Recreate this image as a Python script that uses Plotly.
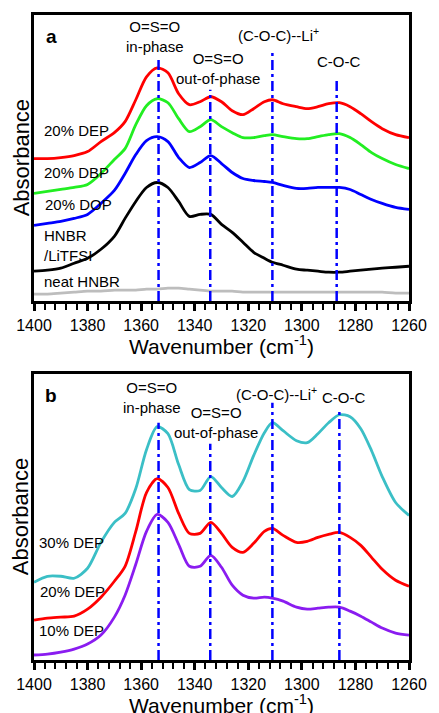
import plotly.graph_objects as go

# wavenumber grid (cm-1), shared by both panels
wavenumber = [1400, 1395, 1390, 1385, 1380, 1375, 1370, 1366, 1362, 1358, 1354, 1350,
              1346, 1342, 1338, 1334, 1330, 1326, 1322, 1318, 1314, 1311, 1307, 1302,
              1298, 1294, 1290, 1286, 1282, 1278, 1274, 1270, 1265, 1260]

# panel a (offset spectra, a.u.)
a_dep20 = [1.43, 1.43, 1.44, 1.46, 1.50, 1.60, 1.69, 1.80, 2.02, 2.25, 2.34, 2.29,
           2.08, 1.97, 2.00, 2.05, 2.00, 1.91, 1.87, 1.93, 2.00, 2.02, 1.98, 1.95,
           1.93, 1.95, 1.98, 1.99, 1.95, 1.88, 1.80, 1.73, 1.67, 1.64]
a_dbp20 = [1.08, 1.10, 1.12, 1.14, 1.17, 1.28, 1.42, 1.53, 1.77, 1.96, 2.03, 1.99,
           1.83, 1.70, 1.75, 1.82, 1.75, 1.69, 1.64, 1.64, 1.66, 1.67, 1.65, 1.63,
           1.63, 1.65, 1.67, 1.68, 1.64, 1.57, 1.49, 1.43, 1.37, 1.33]
a_dop20 = [0.76, 0.78, 0.80, 0.83, 0.87, 0.98, 1.11, 1.28, 1.47, 1.61, 1.65, 1.60,
           1.44, 1.34, 1.39, 1.46, 1.38, 1.29, 1.23, 1.21, 1.20, 1.19, 1.16, 1.13,
           1.13, 1.14, 1.14, 1.14, 1.12, 1.07, 1.02, 0.98, 0.94, 0.92]
a_litfsi = [0.30, 0.31, 0.33, 0.38, 0.43, 0.52, 0.65, 0.83, 1.00, 1.14, 1.19, 1.14,
            1.00, 0.85, 0.87, 0.87, 0.77, 0.69, 0.59, 0.49, 0.43, 0.39, 0.36, 0.32,
            0.31, 0.30, 0.29, 0.29, 0.30, 0.31, 0.32, 0.33, 0.34, 0.35]
a_neat = [0.07, 0.07, 0.08, 0.09, 0.10, 0.10, 0.11, 0.11, 0.11, 0.12, 0.12, 0.13,
          0.13, 0.12, 0.11, 0.10, 0.10, 0.10, 0.09, 0.09, 0.09, 0.09, 0.09, 0.09,
          0.09, 0.09, 0.09, 0.09, 0.09, 0.09, 0.09, 0.09, 0.08, 0.08]

# panel b
b_dep30 = [0.78, 0.84, 0.84, 0.82, 0.92, 1.18, 1.38, 1.47, 1.72, 2.11, 2.34, 2.27,
           1.96, 1.71, 1.70, 1.84, 1.73, 1.64, 1.79, 2.05, 2.28, 2.38, 2.30, 2.20,
           2.18, 2.27, 2.38, 2.46, 2.44, 2.32, 2.10, 1.84, 1.58, 1.45]
b_dep20 = [0.40, 0.42, 0.43, 0.44, 0.51, 0.63, 0.79, 0.94, 1.29, 1.68, 1.82, 1.73,
           1.47, 1.27, 1.27, 1.38, 1.27, 1.13, 1.08, 1.17, 1.29, 1.32, 1.25, 1.18,
           1.19, 1.23, 1.26, 1.28, 1.23, 1.15, 1.03, 0.91, 0.80, 0.74]
b_dep10 = [0.05, 0.06, 0.08, 0.11, 0.16, 0.25, 0.43, 0.65, 0.96, 1.29, 1.46, 1.38,
           1.16, 0.94, 0.94, 1.05, 0.93, 0.75, 0.65, 0.62, 0.63, 0.62, 0.59, 0.53,
           0.51, 0.52, 0.53, 0.53, 0.49, 0.44, 0.38, 0.32, 0.27, 0.25]

# band positions and heights of the marker lines
bands_a = [1353.5, 1334.2, 1311, 1287]
band_tops_a = [2.42, 2.12, 2.50, 2.23]
bands_b = [1353.5, 1334.2, 1311, 1286]
band_tops_b = [2.38, 2.17, 2.58, 2.52]

FONT = "Liberation Sans, Arial, sans-serif"

fig = go.Figure()

panel_a = [(a_dep20, "#FF0000"), (a_dbp20, "#22EE22"), (a_dop20, "#0000FF"),
           (a_litfsi, "#000000"), (a_neat, "#BDBDBD")]
for ys, col in panel_a:
    fig.add_trace(go.Scatter(x=wavenumber, y=ys, mode="lines", xaxis="x", yaxis="y",
                             line=dict(color=col, width=2.8, shape="spline", smoothing=0.8),
                             showlegend=False))

panel_b = [(b_dep30, "#3BBFC6"), (b_dep20, "#FF0000"), (b_dep10, "#8A1CF0")]
for ys, col in panel_b:
    fig.add_trace(go.Scatter(x=wavenumber, y=ys, mode="lines", xaxis="x2", yaxis="y2",
                             line=dict(color=col, width=2.8, shape="spline", smoothing=0.8),
                             showlegend=False))

# dash-dot band markers
for xr, yr, bands, tops in [("x", "y", bands_a, band_tops_a), ("x2", "y2", bands_b, band_tops_b)]:
    for b, t in zip(bands, tops):
        fig.add_shape(type="line", xref=xr, yref=yr, x0=b, x1=b, y0=0, y1=t,
                      line=dict(color="#0000FF", width=2.5, dash="10px,4px,3px,4px"))

xaxis_style = dict(range=[1400, 1260], tick0=1400, dtick=20, ticks="outside", ticklen=7,
                   tickwidth=2.5, tickcolor="black", showline=True, linewidth=2.5,
                   linecolor="black", mirror=True, showgrid=False, zeroline=False,
                   ticklabelstandoff=1,
                   tickfont=dict(family=FONT, size=16, color="black"),
                   minor=dict(dtick=4, ticks="outside", ticklen=6, tickwidth=2,
                              tickcolor="black"))
yaxis_style = dict(range=[0, 2.87], showticklabels=False, ticks="", showline=True,
                   linewidth=2.5, linecolor="black", mirror=True, showgrid=False,
                   zeroline=False)

fig.update_layout(
    width=439, height=713,
    margin=dict(l=34, r=20, t=13, b=53),
    paper_bgcolor="white", plot_bgcolor="white",
    font=dict(family=FONT, size=15, color="black"),
    xaxis=dict(anchor="y", **xaxis_style),
    yaxis=dict(domain=[0.5564, 1], anchor="x", **yaxis_style),
    xaxis2=dict(anchor="y2", **xaxis_style),
    yaxis2=dict(domain=[0, 0.4436], anchor="x2", **yaxis_style),
)

def note(text, x, y, xr, yr, size=15, xanchor="center", bold=False, align="center"):
    if bold:
        text = "<b>" + text + "</b>"
    fig.add_annotation(text=text, x=x, y=y, xref=xr, yref=yr, showarrow=False,
                       xanchor=xanchor, yanchor="middle", align=align,
                       font=dict(family=FONT, size=size, color="black"))

# panel a labels
note("a", 1393.5, 2.65, "x", "y", size=19, bold=True)
note("O=S=O<br>in-phase", 1355, 2.65, "x", "y")
note("O=S=O<br>out-of-phase", 1331.3, 2.33, "x", "y")
note("(C-O-C)--Li<sup>+</sup>", 1308.7, 2.67, "x", "y")
note("C-O-C", 1286.5, 2.40, "x", "y")
note("20% DEP", 1397.1, 1.71, "x", "y", xanchor="left")
note("20% DBP", 1397.1, 1.29, "x", "y", xanchor="left")
note("20% DOP", 1396.8, 0.97, "x", "y", xanchor="left")
note("HNBR<br>/LiTFSI", 1397.1, 0.56, "x", "y", xanchor="left", align="left")
note("neat HNBR", 1397.1, 0.20, "x", "y", xanchor="left")

# panel b labels
note("b", 1393.5, 2.65, "x2", "y2", size=19, bold=True)
note("O=S=O<br>in-phase", 1356, 2.63, "x2", "y2")
note("O=S=O<br>out-of-phase", 1332, 2.38, "x2", "y2")
note("(C-O-C)--Li<sup>+</sup>", 1309.5, 2.67, "x2", "y2")
note("C-O-C", 1284.4, 2.63, "x2", "y2")
note("30% DEP", 1398.9, 1.18, "x2", "y2", xanchor="left")
note("20% DEP", 1398.6, 0.69, "x2", "y2", xanchor="left")
note("10% DEP", 1398.9, 0.30, "x2", "y2", xanchor="left")

# axis titles
for xr, yr in [("x domain", "y domain"), ("x2 domain", "y2 domain")]:
    fig.add_annotation(text="Wavenumber (cm<sup>-1</sup>)", x=0.5, y=-0.153, xref=xr, yref=yr,
                       showarrow=False, xanchor="center", yanchor="middle",
                       font=dict(family=FONT, size=21, color="black"))
    fig.add_annotation(text="Absorbance", x=-0.034, y=0.5, xref=xr, yref=yr, textangle=-90,
                       showarrow=False, xanchor="center", yanchor="middle",
                       font=dict(family=FONT, size=22, color="black"))

# page has a default body margin; drop it so the figure sits at the window corner
fig.write_html("out.html", config={"displayModeBar": False},
               post_script="document.body.style.margin='0';")
